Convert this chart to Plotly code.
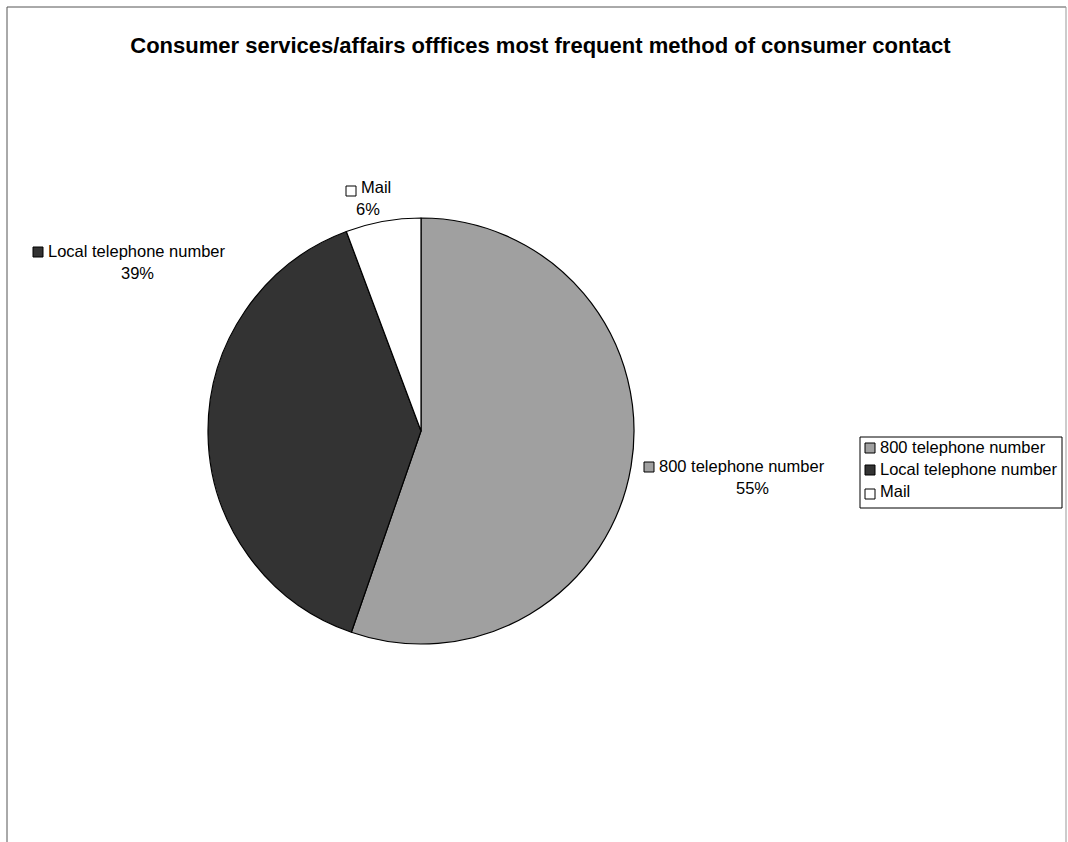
import plotly.graph_objects as go

categories = ["800 telephone number", "Local telephone number", "Mail"]
values = [55.3, 39.0, 5.7]
pct_labels = ["55%", "39%", "6%"]
colors = ["#a0a0a0", "#333333", "#ffffff"]

W, H = 1068, 842
def px(x): return x / W
def py(y): return 1 - y / H

fig = go.Figure()
fig.add_trace(go.Pie(
    labels=categories, values=values, sort=False, direction="clockwise", rotation=0,
    marker=dict(colors=colors, line=dict(color="#000000", width=1.2)),
    textinfo="none", hoverinfo="label+percent", showlegend=False,
    domain=dict(x=[px(208), px(634)], y=[py(644), py(218)]),
))

font = dict(family="Liberation Sans, Arial, sans-serif", size=16.5, color="#000000")

shapes = []
annotations = []

# data labels (name + percentage) with small colour keys
label_pos = [  # (key_x, key_y, text_x_center, name_y, pct_y)
    (644, 467, 752, 466, 488),
    (33, 252, 137, 251, 273),
    (346, 191, 368, 187, 209),
]
for i, (kx, ky, cx, ny, pyy) in enumerate(label_pos):
    shapes.append(dict(type="rect", xref="paper", yref="paper",
                       x0=px(kx), x1=px(kx + 10), y0=py(ky + 5), y1=py(ky - 5),
                       fillcolor=colors[i], line=dict(color="#000000", width=1)))
    annotations.append(dict(text=categories[i], x=px(kx + 13), y=py(ny), xref="paper", yref="paper",
                            xanchor="left", yanchor="middle", showarrow=False, font=font))
    annotations.append(dict(text=pct_labels[i], x=px(cx), y=py(pyy), xref="paper", yref="paper",
                            xanchor="center", yanchor="middle", showarrow=False, font=font))

# legend box (drawn manually to match the original layout)
shapes.append(dict(type="rect", xref="paper", yref="paper", x0=px(860), x1=px(1062), y0=py(508), y1=py(437),
                   fillcolor="#ffffff", line=dict(color="#000000", width=1), layer="below"))
legend_rows = [447, 469, 491]
for i, ry in enumerate(legend_rows):
    ky = ry + (3 if i == 2 else 1)
    shapes.append(dict(type="rect", xref="paper", yref="paper",
                       x0=px(865), x1=px(875), y0=py(ky + 5), y1=py(ky - 5),
                       fillcolor=colors[i], line=dict(color="#000000", width=1)))
    annotations.append(dict(text=categories[i], x=px(878), y=py(ry), xref="paper", yref="paper",
                            xanchor="left", yanchor="middle", showarrow=False, font=font))

# page border
shapes.append(dict(type="line", xref="paper", yref="paper", x0=px(7), x1=px(1066), y0=py(7), y1=py(7),
                   line=dict(color="#555555", width=1)))
shapes.append(dict(type="line", xref="paper", yref="paper", x0=px(7), x1=px(7), y0=py(7), y1=py(842),
                   line=dict(color="#555555", width=1)))
shapes.append(dict(type="line", xref="paper", yref="paper", x0=px(1066), x1=px(1066), y0=py(7), y1=py(842),
                   line=dict(color="#999999", width=1)))

fig.update_layout(
    width=W, height=H,
    margin=dict(l=0, r=0, t=0, b=0),
    paper_bgcolor="#ffffff", plot_bgcolor="#ffffff",
    title=dict(text="<b>Consumer services/affairs offfices most frequent method of consumer contact</b>",
               x=0.506, xanchor="center", y=py(45), yanchor="middle",
               font=dict(family="Liberation Sans, Arial, sans-serif", size=22, color="#000000")),
    showlegend=False,
    shapes=shapes, annotations=annotations,
)

fig.write_html("out.html")
